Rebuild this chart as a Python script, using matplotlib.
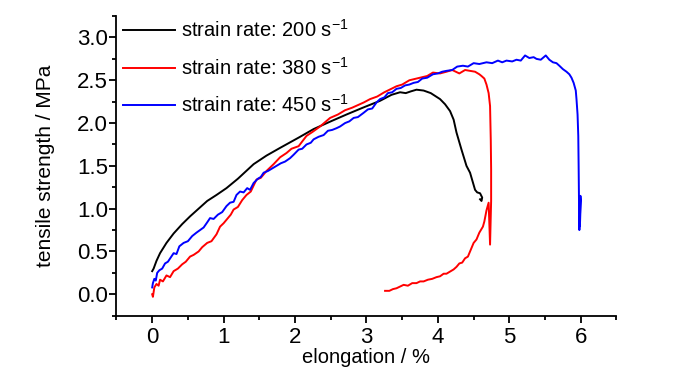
import matplotlib
matplotlib.use('Agg')
import matplotlib.pyplot as plt
from matplotlib.ticker import MultipleLocator

plt.rcParams['font.family'] = ['Liberation Sans', 'DejaVu Sans']
plt.rcParams['mathtext.fontset'] = 'custom'
plt.rcParams['mathtext.rm'] = 'Liberation Sans'

# strain rate 200 1/s
x_200 = [0.0, 0.02, 0.06, 0.11, 0.2, 0.3, 0.42, 0.53, 0.65, 0.77, 0.9, 1.04, 1.2, 1.42, 1.6,
         1.79, 2.05, 2.26, 2.5, 2.72, 2.95, 3.19, 3.35, 3.47, 3.55, 3.62, 3.70, 3.8, 3.9, 4.03,
         4.1, 4.17, 4.22, 4.26, 4.33, 4.40, 4.45, 4.52, 4.55, 4.59, 4.62, 4.61, 4.59]
y_200 = [0.27, 0.30, 0.39, 0.48, 0.60, 0.71, 0.82, 0.91, 1.00, 1.09, 1.16, 1.24, 1.35, 1.52, 1.62,
         1.71, 1.83, 1.93, 2.02, 2.10, 2.18, 2.26, 2.33, 2.36, 2.35, 2.37, 2.39, 2.38, 2.35, 2.28,
         2.22, 2.14, 2.04, 1.89, 1.69, 1.50, 1.42, 1.22, 1.19, 1.18, 1.13, 1.09, 1.11]

# strain rate 380 1/s
x_380 = [0.0, 0.01, 0.03, 0.06, 0.09, 0.11, 0.15, 0.2, 0.25, 0.3, 0.36, 0.42, 0.47, 0.53, 0.58,
         0.65, 0.7, 0.77, 0.83, 0.9, 0.95, 1.0, 1.05, 1.1, 1.14, 1.2, 1.26, 1.32, 1.38, 1.46,
         1.52, 1.6, 1.7, 1.79, 1.88, 1.95, 2.05, 2.16, 2.25, 2.35, 2.49, 2.6, 2.7, 2.8, 2.96,
         3.05, 3.15, 3.25, 3.42, 3.5, 3.6, 3.75, 3.85, 3.93, 4.03, 4.12, 4.2, 4.3, 4.38, 4.45,
         4.52, 4.58, 4.61, 4.65, 4.68, 4.71, 4.73, 4.74, 4.745, 4.745, 4.73, 4.71, 4.68, 4.65,
         4.63, 4.58, 4.54, 4.50, 4.46, 4.42, 4.38, 4.34, 4.30, 4.26, 4.22, 4.18, 4.12, 4.08,
         4.03, 3.98, 3.92, 3.86, 3.80, 3.75, 3.70, 3.64, 3.58, 3.52, 3.47, 3.42, 3.37, 3.32, 3.26]
y_380 = [0.0, -0.03, 0.08, 0.12, 0.10, 0.17, 0.15, 0.22, 0.20, 0.27, 0.30, 0.35, 0.38, 0.44, 0.46,
         0.50, 0.55, 0.60, 0.62, 0.70, 0.79, 0.83, 0.88, 0.93, 0.99, 1.02, 1.10, 1.16, 1.20, 1.34,
         1.36, 1.44, 1.52, 1.60, 1.65, 1.70, 1.73, 1.85, 1.90, 1.96, 2.06, 2.10, 2.15, 2.18, 2.24,
         2.28, 2.31, 2.36, 2.43, 2.45, 2.50, 2.53, 2.55, 2.59, 2.58, 2.60, 2.62, 2.58, 2.62, 2.61,
         2.60, 2.57, 2.55, 2.52, 2.45, 2.35, 2.20, 1.80, 1.46, 1.09, 0.58, 1.07, 0.98, 0.85,
         0.79, 0.72, 0.64, 0.60, 0.52, 0.44, 0.42, 0.37, 0.36, 0.32, 0.29, 0.27, 0.24, 0.24,
         0.21, 0.20, 0.18, 0.17, 0.15, 0.15, 0.13, 0.13, 0.10, 0.11, 0.09, 0.07, 0.06, 0.04, 0.04]

# strain rate 450 1/s
x_450 = [0.0, 0.01, 0.03, 0.05, 0.07, 0.1, 0.14, 0.18, 0.22, 0.26, 0.3, 0.34, 0.38, 0.44, 0.5,
         0.56, 0.62, 0.67, 0.72, 0.77, 0.81, 0.86, 0.92, 0.98, 1.04, 1.09, 1.14, 1.18, 1.23,
         1.28, 1.33, 1.37, 1.42, 1.48, 1.52, 1.56, 1.62, 1.68, 1.74, 1.8, 1.86, 1.93, 1.98,
         2.05, 2.1, 2.16, 2.22, 2.26, 2.33, 2.4, 2.46, 2.52, 2.58, 2.63, 2.7, 2.76, 2.82, 2.88,
         2.96, 3.02, 3.08, 3.14, 3.19, 3.25, 3.3, 3.36, 3.42, 3.48, 3.54, 3.6, 3.66, 3.72, 3.78,
         3.85, 3.93, 4.0, 4.06, 4.12, 4.2, 4.27, 4.35, 4.42, 4.5, 4.58, 4.68, 4.76, 4.84, 4.9,
         4.96, 5.04, 5.1, 5.16, 5.22, 5.28, 5.34, 5.38, 5.44, 5.51, 5.56, 5.61, 5.66, 5.7, 5.75,
         5.8, 5.84, 5.87, 5.9, 5.93, 5.94, 5.955, 5.965, 5.97, 5.975, 5.975, 5.98, 5.99, 6.0,
         5.995, 5.99, 5.985]
y_450 = [0.08, 0.13, 0.18, 0.16, 0.25, 0.28, 0.30, 0.36, 0.38, 0.43, 0.48, 0.47, 0.56, 0.60, 0.62,
         0.68, 0.72, 0.75, 0.78, 0.84, 0.89, 0.88, 0.93, 0.96, 1.03, 1.07, 1.08, 1.16, 1.20,
         1.19, 1.24, 1.22, 1.30, 1.35, 1.37, 1.42, 1.44, 1.47, 1.50, 1.53, 1.55, 1.59, 1.63,
         1.69, 1.70, 1.75, 1.77, 1.81, 1.84, 1.86, 1.91, 1.92, 1.94, 1.96, 2.00, 2.02, 2.06, 2.07,
         2.12, 2.16, 2.17, 2.24, 2.28, 2.30, 2.35, 2.36, 2.40, 2.41, 2.44, 2.45, 2.47, 2.48, 2.52,
         2.53, 2.57, 2.58, 2.60, 2.61, 2.62, 2.66, 2.67, 2.66, 2.70, 2.69, 2.71, 2.70, 2.73, 2.71,
         2.73, 2.72, 2.74, 2.73, 2.79, 2.76, 2.77, 2.75, 2.74, 2.79, 2.74, 2.71, 2.70, 2.67, 2.63,
         2.60, 2.57, 2.53, 2.47, 2.38, 2.28, 2.10, 1.85, 1.50, 1.10, 0.85, 0.75, 0.85, 1.10,
         1.15, 0.95, 0.80]

labels = ['strain rate: 200 s$\\mathregular{^{-1}}$',
          'strain rate: 380 s$\\mathregular{^{-1}}$',
          'strain rate: 450 s$\\mathregular{^{-1}}$']

fig = plt.figure(figsize=(7, 3.74), dpi=100)
ax = fig.add_axes([0.1664, 0.156, 0.7143, 0.801])

ax.plot(x_200, y_200, color='black', lw=1.4, label=labels[0])
ax.plot(x_380, y_380, color='red', lw=1.4, label=labels[1])
ax.plot(x_450, y_450, color='blue', lw=1.4, label=labels[2])

ax.set_xlim(-0.5, 6.5)
ax.set_ylim(-0.25, 3.25)
ax.xaxis.set_major_locator(MultipleLocator(1))
ax.xaxis.set_minor_locator(MultipleLocator(0.5))
ax.yaxis.set_major_locator(MultipleLocator(0.5))
ax.yaxis.set_minor_locator(MultipleLocator(0.25))
ax.yaxis.set_major_formatter(matplotlib.ticker.FormatStrFormatter('%.1f'))

for s in ['top', 'right']:
    ax.spines[s].set_visible(False)
for s in ['left', 'bottom']:
    ax.spines[s].set_linewidth(1.3)
ax.tick_params(which='major', direction='out', length=5, width=1.3, labelsize=16)
ax.tick_params(axis='y', which='major', pad=1)
ax.tick_params(axis='x', which='major', pad=3)
ax.tick_params(which='minor', direction='out', length=3, width=1.3)

ax.set_xlabel('elongation / %', fontsize=14.5, labelpad=0)
ax.set_ylabel('tensile strength / MPa', fontsize=15, labelpad=16)

ax.legend(loc='upper left', bbox_to_anchor=(0.013, 0.99), frameon=False, fontsize=14.5,
          handlelength=2.6, handletextpad=0.3, labelspacing=0.78, borderaxespad=0,
          borderpad=0)

fig.savefig('out.png', dpi=100)
